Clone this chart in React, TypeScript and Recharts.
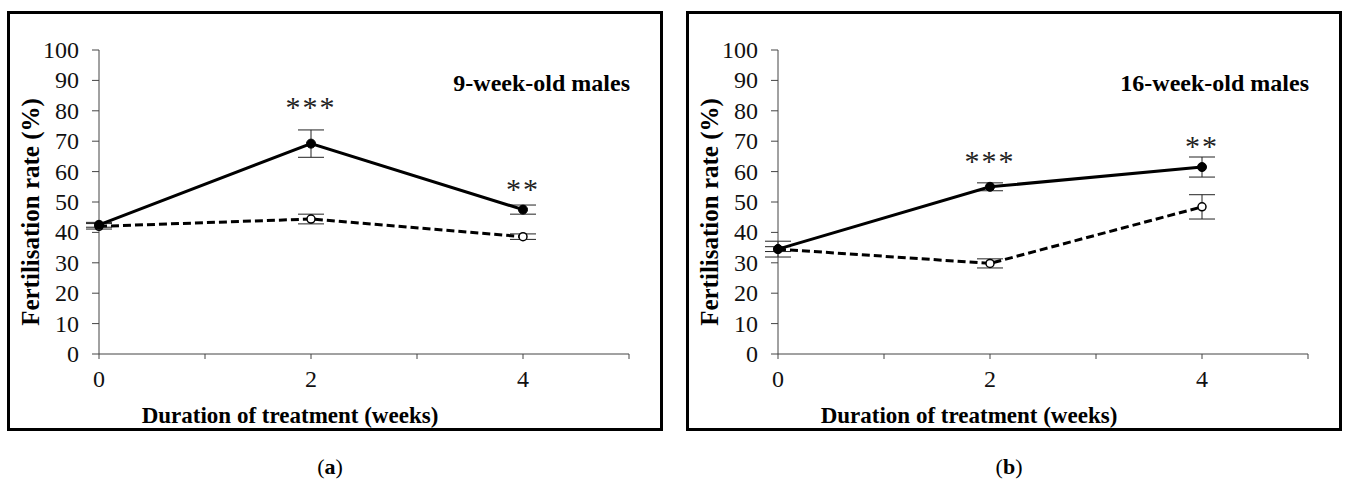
import React from 'react';
import { LineChart, Line, XAxis, YAxis, ErrorBar, ReferenceDot } from 'recharts';

const weeks = [0, 2, 4];
const xTicks = [0, 1, 2, 3, 4, 5];
const yTicks = [0, 10, 20, 30, 40, 50, 60, 70, 80, 90, 100];

// Panel (a): 9-week-old males
const aTreated = [42.5, 69.2, 47.5];
const aTreatedErr = [0.8, 4.5, 1.5];
const aControl = [42.0, 44.4, 38.6];
const aControlErr = [0.9, 1.6, 0.9];
const aSigX = [2, 4];
const aSigY = [82.6, 55.6];
const aSigText = ['***', '**'];

// Panel (b): 16-week-old males
const bTreated = [34.5, 55.0, 61.5];
const bTreatedErr = [0.8, 1.3, 3.3];
const bControl = [34.5, 29.8, 48.4];
const bControlErr = [2.6, 1.5, 4.0];
const bSigX = [2, 4];
const bSigY = [64.8, 69.7];
const bSigText = ['***', '**'];

const SERIF = "'Liberation Serif', 'DejaVu Serif', serif";
const W = 656;
const H = 420;
const TICK_FS = 24;

function build(t: number[], te: number[], c: number[], ce: number[]) {
  return weeks.map((w, i) => ({ week: w, treated: t[i], treatedErr: te[i], control: c[i], controlErr: ce[i] }));
}

function XTick(p: any) {
  const v = Number(p.payload && p.payload.value);
  const label = v % 2 === 0 && v < 5 ? String(v) : '';
  return (
    <text x={p.x} y={p.y + 24} textAnchor="middle" fill="#111" style={{ fontFamily: SERIF, fontSize: `${TICK_FS}px` }}>
      {label}
    </text>
  );
}

function YTick(p: any) {
  return (
    <text x={p.x - 1} y={p.y + 8} textAnchor="end" fill="#111" style={{ fontFamily: SERIF, fontSize: `${TICK_FS}px` }}>
      {p.payload && p.payload.value}
    </text>
  );
}

function Panel(props: {
  left: number; top: number; title: string; letter: string;
  data: any[]; sigX: number[]; sigY: number[]; sigText: string[];
}) {
  const { left, top, title, letter, data, sigX, sigY, sigText } = props;
  return (
    <>
      <div style={{ position: 'absolute', left, top, width: W, height: H }}>
        <LineChart width={W} height={H} data={data} margin={{ top: 39, right: 34, left: 0, bottom: 0 }}>
          <XAxis
            dataKey="week"
            type="number"
            domain={[0, 5]}
            ticks={xTicks}
            interval={0}
            tickSize={5}
            tickMargin={4}
            height={77}
            stroke="#444"
            tick={<XTick />}
          />
          <YAxis
            type="number"
            domain={[0, 100]}
            ticks={yTicks}
            interval={0}
            width={92}
            tickSize={7}
            tickMargin={12}
            stroke="#444"
            tick={<YTick />}
          />
          <Line
            dataKey="control"
            stroke="#000"
            strokeWidth={3}
            strokeDasharray="8 4"
            dot={{ r: 4, fill: '#fff', stroke: '#000', strokeWidth: 1.5, strokeDasharray: '' }}
            isAnimationActive={false}
          >
            <ErrorBar dataKey="controlErr" width={13} stroke="#222" strokeWidth={1} />
          </Line>
          <Line
            dataKey="treated"
            stroke="#000"
            strokeWidth={3}
            dot={{ r: 4.5, fill: '#000', stroke: '#000', strokeWidth: 1 }}
            isAnimationActive={false}
          >
            <ErrorBar dataKey="treatedErr" width={13} stroke="#222" strokeWidth={1} />
          </Line>
          {sigX.map((x, i) => (
            <ReferenceDot
              key={i}
              x={x}
              y={sigY[i]}
              r={0}
              fill="none"
              stroke="none"
              label={{ value: sigText[i], position: 'center', fontSize: 30, fontFamily: SERIF, fill: '#222', letterSpacing: 2, dy: 3 }}
            />
          ))}
        </LineChart>
        <div style={{ position: 'absolute', left: 23, top: 201, transform: 'translate(-50%,-50%) rotate(-90deg)', whiteSpace: 'nowrap', fontFamily: SERIF, fontWeight: 'bold', fontSize: 25, lineHeight: 1, color: '#000' }}>
          Fertilisation rate (%)
        </div>
        <div style={{ position: 'absolute', left: 283, top: 404, transform: 'translate(-50%,-50%)', whiteSpace: 'nowrap', fontFamily: SERIF, fontWeight: 'bold', fontSize: 23, lineHeight: 1, color: '#000' }}>
          Duration of treatment (weeks)
        </div>
        <div style={{ position: 'absolute', right: W - 623, top: 72, transform: 'translateY(-50%)', whiteSpace: 'nowrap', fontFamily: SERIF, fontWeight: 'bold', fontSize: 24, lineHeight: 1, color: '#000' }}>
          {title}
        </div>
        <div style={{ position: 'absolute', left: 0, top: 0, width: W, height: H, border: '3px solid #000', boxSizing: 'border-box', pointerEvents: 'none' }} />
      </div>
      <div style={{ position: 'absolute', left: left + 323, top: 467, transform: 'translate(-50%,-50%)', fontFamily: SERIF, fontSize: 22, lineHeight: 1, color: '#000' }}>
        (<b>{letter}</b>)
      </div>
    </>
  );
}

export default function App() {
  const dataA = build(aTreated, aTreatedErr, aControl, aControlErr);
  const dataB = build(bTreated, bTreatedErr, bControl, bControlErr);
  return (
    <div style={{ position: 'absolute', left: 0, top: 0, width: 1345, height: 488, background: '#fff' }}>
      <Panel left={7} top={11} title="9-week-old males" letter="a" data={dataA} sigX={aSigX} sigY={aSigY} sigText={aSigText} />
      <Panel left={686} top={11} title="16-week-old males" letter="b" data={dataB} sigX={bSigX} sigY={bSigY} sigText={bSigText} />
    </div>
  );
}
